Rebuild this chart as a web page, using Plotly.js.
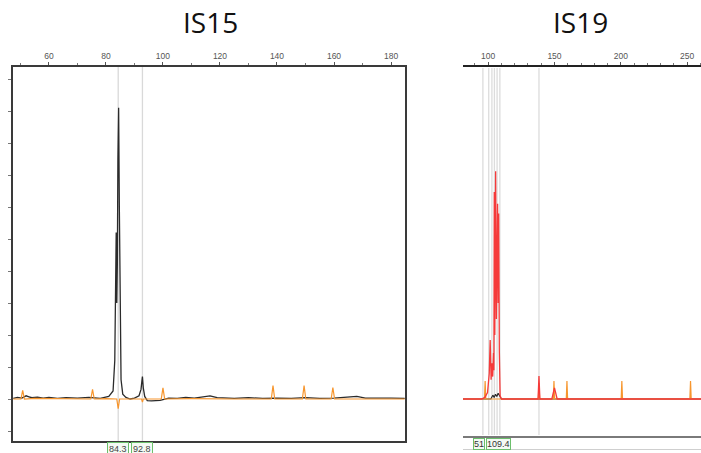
<!DOCTYPE html>
<html>
<head>
<meta charset="utf-8">
<script src="https://cdn.plot.ly/plotly-3.0.1.min.js"></script>
<style>html,body{margin:0;padding:0;background:#fff;}#chart{width:701px;height:453px;}</style>
</head>
<body>
<div id="chart"></div>
<script>
// ---------- IS15 (left panel) ----------
const is15BlackX = [47.5, 49, 50.5, 52, 53, 54, 56, 58, 60, 63, 66, 70, 74, 78, 81, 82.5, 83.1, 83.4, 83.6, 83.8, 84.0, 84.2, 84.45, 84.7, 84.95, 85.3, 85.9, 87, 88.5, 90, 91.6, 92.3, 92.6, 92.8, 93.1, 93.6, 94.5, 96, 99, 102, 105, 108, 111, 114, 116.5, 119, 125, 130, 135, 140, 145, 150, 155, 160, 165, 168, 171, 175, 180, 184.8];
const is15BlackY = [0.02, 0.05, 0.03, 0.1, 0.07, 0.04, 0.06, 0.03, 0.05, 0.02, 0.04, 0.03, 0.05, 0.02, 0.08, 0.25, 1.2, 3.5, 5.2, 3.0, 4.2, 7.5, 9.1, 6.0, 2.5, 0.6, 0.15, 0.05, 0.0, 0.03, 0.1, 0.3, 0.55, 0.7, 0.35, 0.08, -0.05, -0.06, -0.04, 0.03, 0.02, 0.05, 0.03, 0.06, 0.1, 0.04, 0.02, 0.04, 0.02, 0.03, 0.02, 0.04, 0.02, 0.03, 0.05, 0.08, 0.03, 0.02, 0.03, 0.02];
const is15OrangeX = [47.5, 50.2, 50.8, 51.4, 55, 65, 74.7, 75.3, 75.9, 80, 83.8, 84.3, 84.8, 90, 92.5, 92.8, 93.1, 99.4, 100.0, 100.6, 110, 125, 138.0, 138.6, 139.2, 148.9, 149.5, 150.1, 159.0, 159.6, 160.2, 170, 184.8];
const is15OrangeY = [0, 0, 0.27, 0, 0.02, 0, 0, 0.3, 0, 0.01, 0, -0.3, 0, 0, 0, -0.1, 0, 0, 0.35, 0, 0.01, 0, 0, 0.42, 0, 0, 0.42, 0, 0, 0.36, 0, 0, 0];
const is15Markers = [84.3, 92.8];
const is15Labels = ['84.3', '92.8'];
const is15Ticks = [60, 80, 100, 120, 140, 160, 180];

// ---------- IS19 (right panel) ----------
const is19RedX = [81, 95, 97.5, 99.5, 100.8, 101.5, 102.2, 102.8, 103.4, 104.0, 104.3, 104.6, 105.0, 105.6, 106.2, 106.7, 107.1, 107.5, 107.9, 108.4, 109.0, 110, 120, 137.6, 138.3, 139.0, 148.0, 150.0, 152.0, 180, 220, 260.5];
const is19RedY = [0, 0, 0.05, 0.2, 0.8, 1.84, 0.6, 1.12, 0.7, 1.44, 0.9, 6.47, 2.0, 7.12, 2.5, 4.0, 6.1, 3.0, 5.8, 1.5, 0.1, 0, 0, 0, 0.72, 0, 0, 0.35, 0, 0, 0, 0];
const is19OrangeX = [81, 97.2, 97.7, 98.2, 137.8, 138.3, 138.8, 149.1, 149.6, 150.1, 158.9, 159.4, 159.9, 200.3, 200.8, 201.3, 252.1, 252.6, 253.1, 260.5];
const is19OrangeY = [0, 0, 0.56, 0, 0, 0.5, 0, 0, 0.56, 0, 0, 0.56, 0, 0, 0.56, 0, 0, 0.56, 0, 0];
const is19BlackX = [81, 102, 103.5, 104.5, 105.5, 106.5, 107.5, 108.5, 110, 260.5];
const is19BlackY = [0, 0, 0.12, 0.05, 0.15, 0.08, 0.18, 0.1, 0, 0];
const is19Markers = [96.0, 100.4, 102.8, 104.7, 106.7, 108.8, 138.3];
const is19Labels = ['51', '109.4'];
const is19LabelX = [93.2, 107.5];
const is19Ticks = [100, 150, 200, 250];

const W = 701, H = 453;
const px = v => v / W;
const py = v => (H - v) / H;

const traces = [
  {x: is15BlackX, y: is15BlackY, xaxis: 'x', yaxis: 'y', mode: 'lines', line: {color: '#2b2b2b', width: 1.3}, hoverinfo: 'skip'},
  {x: is15OrangeX, y: is15OrangeY, xaxis: 'x', yaxis: 'y', mode: 'lines', line: {color: '#f7962e', width: 1.2}, hoverinfo: 'skip'},
  {x: is19BlackX, y: is19BlackY, xaxis: 'x2', yaxis: 'y2', mode: 'lines', line: {color: '#2b2b2b', width: 1.2}, hoverinfo: 'skip'},
  {x: is19OrangeX, y: is19OrangeY, xaxis: 'x2', yaxis: 'y2', mode: 'lines', line: {color: '#f7962e', width: 1.2}, hoverinfo: 'skip'},
  {x: is19RedX, y: is19RedY, xaxis: 'x2', yaxis: 'y2', mode: 'lines', line: {color: '#f53a3a', width: 1.3}, hoverinfo: 'skip'}
];

const shapes = [];
is15Markers.forEach(m => shapes.push({type: 'line', xref: 'x', yref: 'paper', x0: m, x1: m, y0: py(446), y1: py(67), line: {color: '#d9d9d9', width: 1.3}, layer: 'below'}));
is19Markers.forEach(m => shapes.push({type: 'line', xref: 'x2', yref: 'paper', x0: m, x1: m, y0: py(435), y1: py(68), line: {color: '#dcdcdc', width: 1.3}, layer: 'below'}));
shapes.push({type: 'line', xref: 'paper', yref: 'paper', x0: px(463), x1: 1, y0: py(437), y1: py(437), line: {color: '#7a7a7a', width: 2}});
shapes.push({type: 'line', xref: 'paper', yref: 'paper', x0: px(463), x1: 1, y0: py(449.5), y1: py(449.5), line: {color: '#cfcfcf', width: 1}});

const annotations = [
  {text: 'IS15', xref: 'paper', yref: 'paper', x: px(210), y: py(22), showarrow: false, font: {family: 'Open Sans, sans-serif', size: 28, color: '#111'}, xanchor: 'center', yanchor: 'middle'},
  {text: 'IS19', xref: 'paper', yref: 'paper', x: px(580), y: py(22), showarrow: false, font: {family: 'Open Sans, sans-serif', size: 28, color: '#111'}, xanchor: 'center', yanchor: 'middle'}
];
is15Markers.forEach((m, i) => annotations.push({text: is15Labels[i], xref: 'x', yref: 'paper', x: m, y: py(449), showarrow: false, xanchor: 'center', yanchor: 'middle', font: {family: 'Liberation Sans, Arial, sans-serif', size: 9, color: '#444'}, bordercolor: '#6cbf6c', borderwidth: 1, borderpad: 1, bgcolor: '#f4faf4'}));
is19LabelX.forEach((m, i) => annotations.push({text: is19Labels[i], xref: 'x2', yref: 'paper', x: m, y: py(444), showarrow: false, xanchor: 'center', yanchor: 'middle', font: {family: 'Liberation Sans, Arial, sans-serif', size: 9, color: '#333'}, bordercolor: '#6cbf6c', borderwidth: 1, borderpad: 0, bgcolor: '#f4faf4'}));

const tickFont = {family: 'Liberation Sans, Arial, sans-serif', size: 8.5, color: '#555'};

const layout = {
  width: W, height: H,
  margin: {l: 0, r: 0, t: 0, b: 0},
  paper_bgcolor: '#fff', plot_bgcolor: 'rgba(0,0,0,0)',
  showlegend: false,
  xaxis: {domain: [px(13), px(405)], anchor: 'y', side: 'top', range: [47.4, 184.9],
    tickvals: is15Ticks, ticktext: is15Ticks.map(String), tickfont: tickFont,
    ticks: 'outside', ticklen: 3, tickcolor: '#555',
    minor: {dtick: 10, tick0: 0, ticks: 'outside', ticklen: 2, tickcolor: '#777'},
    showline: true, mirror: true, linecolor: '#3a3a3a', linewidth: 1.6,
    showgrid: false, zeroline: false, fixedrange: true},
  yaxis: {domain: [py(441), py(67)], anchor: 'x', range: [-1.3125, 10.375],
    tick0: 0, dtick: 1, ticks: 'outside', ticklen: 3, tickcolor: '#777', showticklabels: false,
    showline: true, mirror: true, linecolor: '#3a3a3a', linewidth: 1.6,
    showgrid: false, zeroline: false, fixedrange: true},
  xaxis2: {domain: [px(463), 1], anchor: 'y2', side: 'top', range: [81, 260.5],
    tickvals: is19Ticks, ticktext: is19Ticks.map(String), tickfont: tickFont,
    ticks: 'outside', ticklen: 3, tickcolor: '#555',
    minor: {dtick: 10, tick0: 0, ticks: 'outside', ticklen: 2, tickcolor: '#777'},
    showline: true, linecolor: '#222', linewidth: 2,
    showgrid: false, zeroline: false, fixedrange: true},
  yaxis2: {domain: [py(437), py(67)], anchor: 'x2', range: [-1.1875, 10.375],
    showline: false, ticks: '', showticklabels: false,
    showgrid: false, zeroline: false, fixedrange: true},
  shapes: shapes,
  annotations: annotations
};

Plotly.newPlot('chart', traces, layout, {displayModeBar: false, staticPlot: true});
</script>
</body>
</html>
